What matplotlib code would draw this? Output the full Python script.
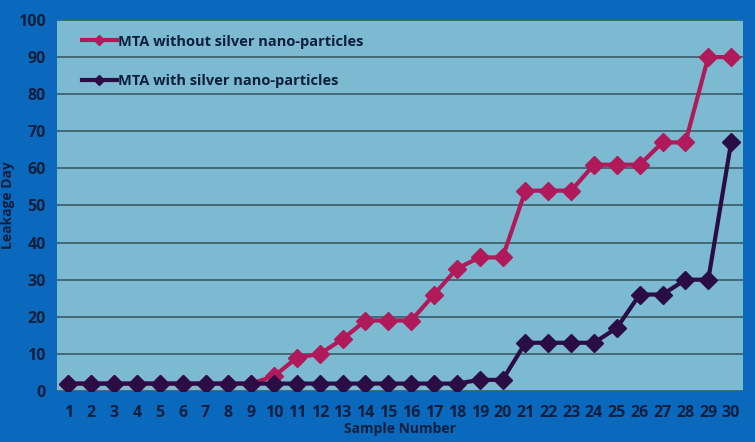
import matplotlib.pyplot as plt

plt.rcParams['font.family'] = ['Open Sans', 'DejaVu Sans']

samples = list(range(1, 31))
without_silver = [2, 2, 2, 2, 2, 2, 2, 2, 2, 4, 9, 10, 14, 19, 19, 19, 26, 33, 36, 36,
                  54, 54, 54, 61, 61, 61, 67, 67, 90, 90]
with_silver = [2, 2, 2, 2, 2, 2, 2, 2, 2, 2, 2, 2, 2, 2, 2, 2, 2, 2, 3, 3,
               13, 13, 13, 13, 17, 26, 26, 30, 30, 67]

fig_bg = "#0a68bd"
plot_bg = "#7cbad1"
text_col = "#0d1f3c"

fig = plt.figure(figsize=(7.55, 4.42), dpi=100, facecolor=fig_bg)
ax = fig.add_axes([0.0755, 0.1154, 0.908, 0.8394])
ax.set_facecolor(plot_bg)

ax.plot(samples, without_silver, color="#b0195a", lw=3, marker="D",
        markersize=9, label="MTA without silver nano-particles", zorder=3)
ax.plot(samples, with_silver, color="#2b0d45", lw=3, marker="D",
        markersize=9, label="MTA with silver nano-particles", zorder=4)

ax.set_xlim(0.5, 30.5)
ax.set_ylim(0, 100)
ax.set_xticks(samples)
ax.set_yticks(range(0, 101, 10))
ax.grid(axis="y", color="#3a5a68", lw=1.2)
ax.set_axisbelow(True)
for s in ax.spines.values():
    s.set_visible(False)

ax.tick_params(axis="x", length=0, pad=10, labelsize=11.5, labelcolor=text_col)
ax.tick_params(axis="y", length=0, pad=8, labelsize=11.5, labelcolor=text_col)
for lbl in ax.get_xticklabels() + ax.get_yticklabels():
    lbl.set_fontweight("bold")

ax.set_xlabel("Sample Number", fontsize=10, fontweight="bold", color=text_col, labelpad=1)
ax.set_ylabel("Leakage Day", fontsize=10, fontweight="bold", color=text_col, labelpad=2)

leg = ax.legend(loc="upper left", bbox_to_anchor=(0.015, 1.0), frameon=False,
                fontsize=10.5, labelspacing=1.75, handlelength=2.4,
                handletextpad=0.1, borderaxespad=0.6, markerscale=0.6)
for t in leg.get_texts():
    t.set_color(text_col)
    t.set_fontweight("bold")

fig.savefig("out.png", dpi=100, facecolor=fig_bg)
